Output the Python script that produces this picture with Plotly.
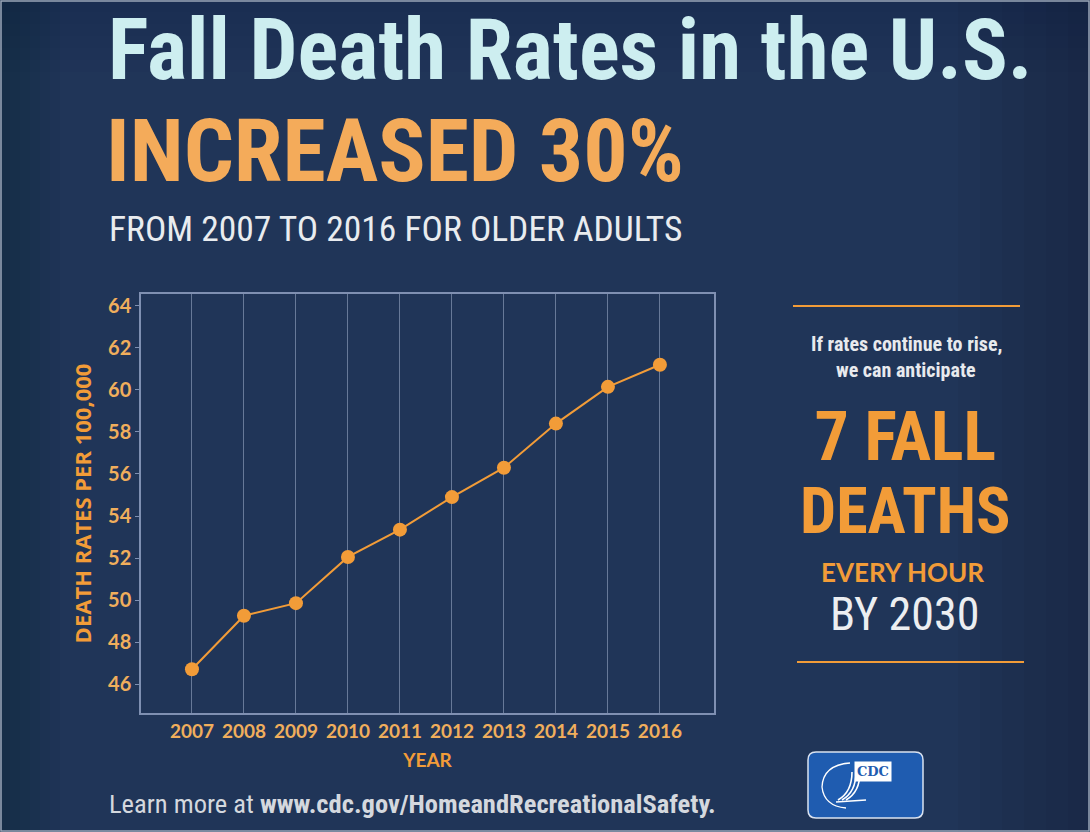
import plotly.graph_objects as go

years = [2007, 2008, 2009, 2010, 2011, 2012, 2013, 2014, 2015, 2016]
death_rates = [46.7, 49.25, 49.85, 52.05, 53.35, 54.9, 56.3, 58.4, 60.15, 61.2]
y_ticks = [46, 48, 50, 52, 54, 56, 58, 60, 62, 64]

BG = "#203558"
ORANGE = "#f29c38"
ORANGE_LT = "#f0ae5c"
CYAN = "#cdeef0"
SANS = "Lato, Roboto, Open Sans, sans-serif"
COND = "Roboto Condensed, Roboto, sans-serif"

fig = go.Figure()
fig.add_trace(go.Scatter(
    x=years, y=death_rates, mode="lines+markers",
    line=dict(color=ORANGE, width=2),
    marker=dict(color=ORANGE, size=14),
    hoverinfo="x+y", showlegend=False,
))

fig.update_layout(
    width=1090, height=832,
    margin=dict(l=0, r=0, t=0, b=0),
    paper_bgcolor=BG, plot_bgcolor="rgba(0,0,0,0)",
    xaxis=dict(
        domain=[141/1090, 714/1090], range=[2006.02, 2017.04],
        tickvals=years, ticktext=[str(y) for y in years],
        showgrid=True, gridcolor="rgba(190,205,230,0.45)", gridwidth=1,
        showline=True, mirror=True, linecolor="#7f90b2", linewidth=1.5,
        zeroline=False, ticks="", ticklabelstandoff=0,
        tickfont=dict(family=SANS, size=19, color=ORANGE_LT, weight=700),
        title=dict(text="YEAR", standoff=13,
                   font=dict(family=SANS, size=19, color=ORANGE, weight=700)),
    ),
    yaxis=dict(
        domain=[1-713/832, 1-294/832], range=[44.62, 64.57],
        tickvals=y_ticks, showgrid=False,
        showline=True, mirror=True, linecolor="#7f90b2", linewidth=1.5,
        zeroline=False, ticks="outside", ticklen=4, tickcolor="#7f90b2",
        tickfont=dict(family=SANS, size=20, color=ORANGE_LT, weight=700),
        title=dict(text="DEATH RATES PER 100,000", standoff=10,
                   font=dict(family="Open Sans, sans-serif", size=22, color=ORANGE, weight=700)),
    ),
)

ann = [
    dict(text="Fall Death Rates in the U.S.", x=106, y=50, size=85, color=CYAN, family=COND, w=700, xanchor="left"),
    dict(text="INCREASED 30%", x=104, y=150, size=88, color="#f4ab5a", family=COND, w=700, xanchor="left"),
    dict(text="FROM 2007 TO 2016 FOR OLDER ADULTS", x=107, y=229, size=35.5, color="#e9ecef", family=COND, w=400, xanchor="left"),
    dict(text="If rates continue to rise,", x=906, y=344, size=20, color="#e8eaee", family=COND, w=700, xanchor="center"),
    dict(text="we can anticipate", x=906, y=370, size=20, color="#e8eaee", family=COND, w=700, xanchor="center"),
    dict(text="<span style='font-size:68px'>7 FALL</span><br><span style='font-size:64px'>DEATHS</span>",
         x=905, y=473, size=56, color=ORANGE, family=COND, w=700, xanchor="center"),
    dict(text="EVERY HOUR", x=902, y=572, size=26, color=ORANGE, family=SANS, w=700, xanchor="center"),
    dict(text="BY 2030", x=904, y=614, size=46, color="#eceef1", family=COND, w=400, xanchor="center"),
    dict(text="Learn more at <b>www.cdc.gov/HomeandRecreationalSafety.</b>", x=107, y=803, size=26.5, color="#d4d8de", family=COND, w=400, xanchor="left"),
]
for a in ann:
    fig.add_annotation(
        text=a["text"], x=a["x"]/1090, y=1-a["y"]/832, xref="paper", yref="paper",
        xanchor=a["xanchor"], yanchor="middle", showarrow=False,
        font=dict(family=a["family"], size=a["size"], color=a["color"], weight=a["w"]),
    )

def px(x): return x/1090
def py(y): return 1-y/832

# subtle edge darkening (vignette)
for i in range(6):
    fig.add_shape(type="rect", xref="paper", yref="paper", layer="below", line=dict(width=0),
                  x0=px(1090 - (i + 1) * 22), x1=1, y0=0, y1=1, fillcolor="rgba(12,20,38,0.05)")
    fig.add_shape(type="rect", xref="paper", yref="paper", layer="below", line=dict(width=0),
                  x0=0, x1=px((i + 1) * 10), y0=0, y1=1, fillcolor="rgba(12,20,38,0.04)")
    fig.add_shape(type="rect", xref="paper", yref="paper", layer="below", line=dict(width=0),
                  x0=0, x1=1, y0=py((i + 1) * 12), y1=1, fillcolor="rgba(12,20,38,0.02)")

fig.add_shape(type="line", xref="paper", yref="paper", x0=px(793), x1=px(1020), y0=py(306), y1=py(306),
              line=dict(color=ORANGE, width=2), layer="below")
fig.add_shape(type="line", xref="paper", yref="paper", x0=px(797), x1=px(1024), y0=py(662), y1=py(662),
              line=dict(color=ORANGE, width=2), layer="below")

# CDC badge
x0, x1, y0, y1, r = 808, 923, 752, 818, 8
path = (f"M {px(x0+r)},{py(y0)} L {px(x1-r)},{py(y0)} Q {px(x1)},{py(y0)} {px(x1)},{py(y0+r)} "
        f"L {px(x1)},{py(y1-r)} Q {px(x1)},{py(y1)} {px(x1-r)},{py(y1)} "
        f"L {px(x0+r)},{py(y1)} Q {px(x0)},{py(y1)} {px(x0)},{py(y1-r)} "
        f"L {px(x0)},{py(y0+r)} Q {px(x0)},{py(y0)} {px(x0+r)},{py(y0)} Z")
fig.add_shape(type="path", xref="paper", yref="paper", path=path, layer="below",
              fillcolor="#1f5cb0", line=dict(color="#d9e2f0", width=1.5))
fig.add_shape(type="path", xref="paper", yref="paper", layer="below",
              path=f"M {px(850)},{py(763)} Q {px(823)},{py(765)} {px(822)},{py(787)} Q {px(824)},{py(806)} {px(846)},{py(808)}",
              line=dict(color="white", width=1.3))
for dx in (0, 4, 8):
    fig.add_shape(type="path", xref="paper", yref="paper", layer="below",
                  path=f"M {px(838+dx)},{py(800)} Q {px(852+dx)},{py(792)} {px(852+dx)},{py(772)}",
                  line=dict(color="white", width=1.6))
fig.add_shape(type="line", xref="paper", yref="paper", layer="below",
              x0=px(836), x1=px(866), y0=py(802), y1=py(800), line=dict(color="white", width=1.5))
fig.add_annotation(text="CDC", x=px(891.5), y=py(782), xref="paper", yref="paper", showarrow=False,
                   bgcolor="white", borderpad=2,
                   font=dict(family="DejaVu Serif, serif", size=13, color="#1f5cb0", weight=700))

# outer frame
fig.add_shape(type="rect", xref="paper", yref="paper", x0=px(1), x1=px(1089), y0=py(1), y1=py(831),
              line=dict(color="#9aa6b8", width=1.5), fillcolor="rgba(0,0,0,0)", layer="below")

fig.write_html("out.html", config={"displayModeBar": False},
               post_script="document.body.style.margin='0';document.body.style.overflow='hidden';")
